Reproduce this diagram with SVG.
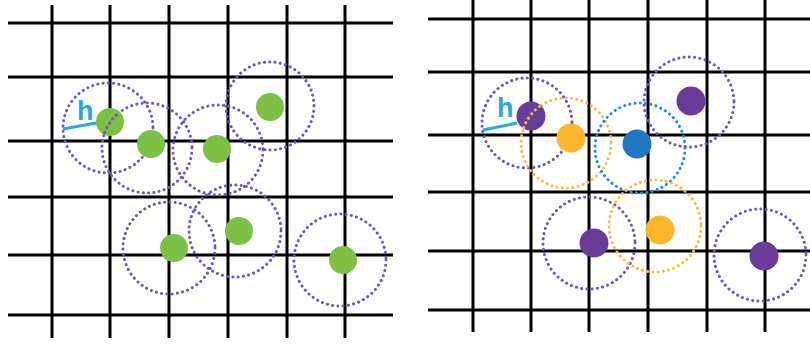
<svg xmlns="http://www.w3.org/2000/svg" width="810" height="344" viewBox="0 0 810 344">
<style>
.g{stroke:#000;stroke-width:3;fill:none}
.dc{fill:none;stroke-width:3;stroke-linecap:round;stroke-dasharray:0.1 5.2}
.pu{stroke:#6f55bf}
.ye{stroke:#f4c040}
.bl{stroke:#1e8fd3}
.green{fill:#7cc143}
.pdot{fill:#6a3c99}
.odot{fill:#fbb62b}
.bdot{fill:#1f78c0}
.h{font-family:"Liberation Sans",Arial,sans-serif;font-weight:bold;font-size:27px;fill:#29a9df}
.hl{stroke:#29a9df;stroke-width:3}
</style>
<rect width="810" height="344" fill="#fff"/>
<g id="grid-left">
<path class="g" d="M8 23H393M8 77H393M8 141H393M8 197H393M8 255H393M8 315H393"/>
<path class="g" d="M52 5V338M110 5V338M169 5V338M228 5V338M287 5V338M345 5V338"/>
</g>
<g id="grid-right">
<path class="g" d="M428 19H810M428 72H810M428 135H810M428 192H810M428 251H810M428 310H810"/>
<path class="g" d="M473 0V332M531 0V332M589 0V332M648 0V332M707 0V332M765 0V332"/>
</g>
<g id="left-circles">
<circle class="dc pu" cx="108" cy="128" r="45"/>
<circle class="dc pu" cx="147" cy="148" r="45"/>
<circle class="dc pu" cx="218" cy="150" r="45"/>
<circle class="dc pu" cx="270" cy="106" r="44"/>
<circle class="dc pu" cx="169" cy="248" r="46"/>
<circle class="dc pu" cx="235" cy="231" r="46"/>
<circle class="dc pu" cx="340" cy="260" r="46"/>
</g>
<g id="left-dots">
<circle id="L1" class="green" cx="110" cy="122" r="14"/>
<circle id="L2" class="green" cx="151" cy="144" r="14"/>
<circle id="L3" class="green" cx="217" cy="149" r="14"/>
<circle id="L4" class="green" cx="270" cy="107" r="14"/>
<circle id="L5" class="green" cx="174" cy="248" r="14"/>
<circle id="L6" class="green" cx="239" cy="231" r="14"/>
<circle id="L7" class="green" cx="343" cy="260" r="14"/>
</g>
<path class="dc pu" d="M104.7 132.6A45 45 0 0 1 118.1 113.5"/>
<g id="right-circles">
<circle class="dc pu" cx="527" cy="123" r="45"/>
<circle class="dc ye" cx="566" cy="143" r="45"/>
<circle class="dc bl" cx="640" cy="148" r="45"/>
<circle class="dc pu" cx="689" cy="102" r="45"/>
<circle class="dc pu" cx="589" cy="243" r="46"/>
<circle class="dc ye" cx="655" cy="226" r="46"/>
<circle class="dc pu" cx="760" cy="255" r="46"/>
</g>
<g id="right-dots">
<circle id="R1" class="pdot" cx="531" cy="116" r="14.5"/>
<circle id="R2" class="odot" cx="571" cy="138" r="14.5"/>
<circle id="R3" class="bdot" cx="637" cy="144" r="14.5"/>
<circle id="R4" class="pdot" cx="691" cy="101" r="14.5"/>
<circle id="R5" class="pdot" cx="594" cy="243" r="14.5"/>
<circle id="R6" class="odot" cx="660" cy="230" r="14.5"/>
<circle id="R7" class="pdot" cx="764" cy="256" r="14.5"/>
</g>
<path class="dc ye" d="M523.7 127.6A45 45 0 0 1 540.2 106.1"/>
<g id="connectors">
<line class="hl" x1="63" y1="129" x2="96" y2="123"/>
<line class="hl" x1="483" y1="130" x2="517" y2="123"/>
</g>
<g id="labels">
<text class="h" x="77" y="120">h</text>
<text class="h" x="497" y="117">h</text>
</g>
</svg>
